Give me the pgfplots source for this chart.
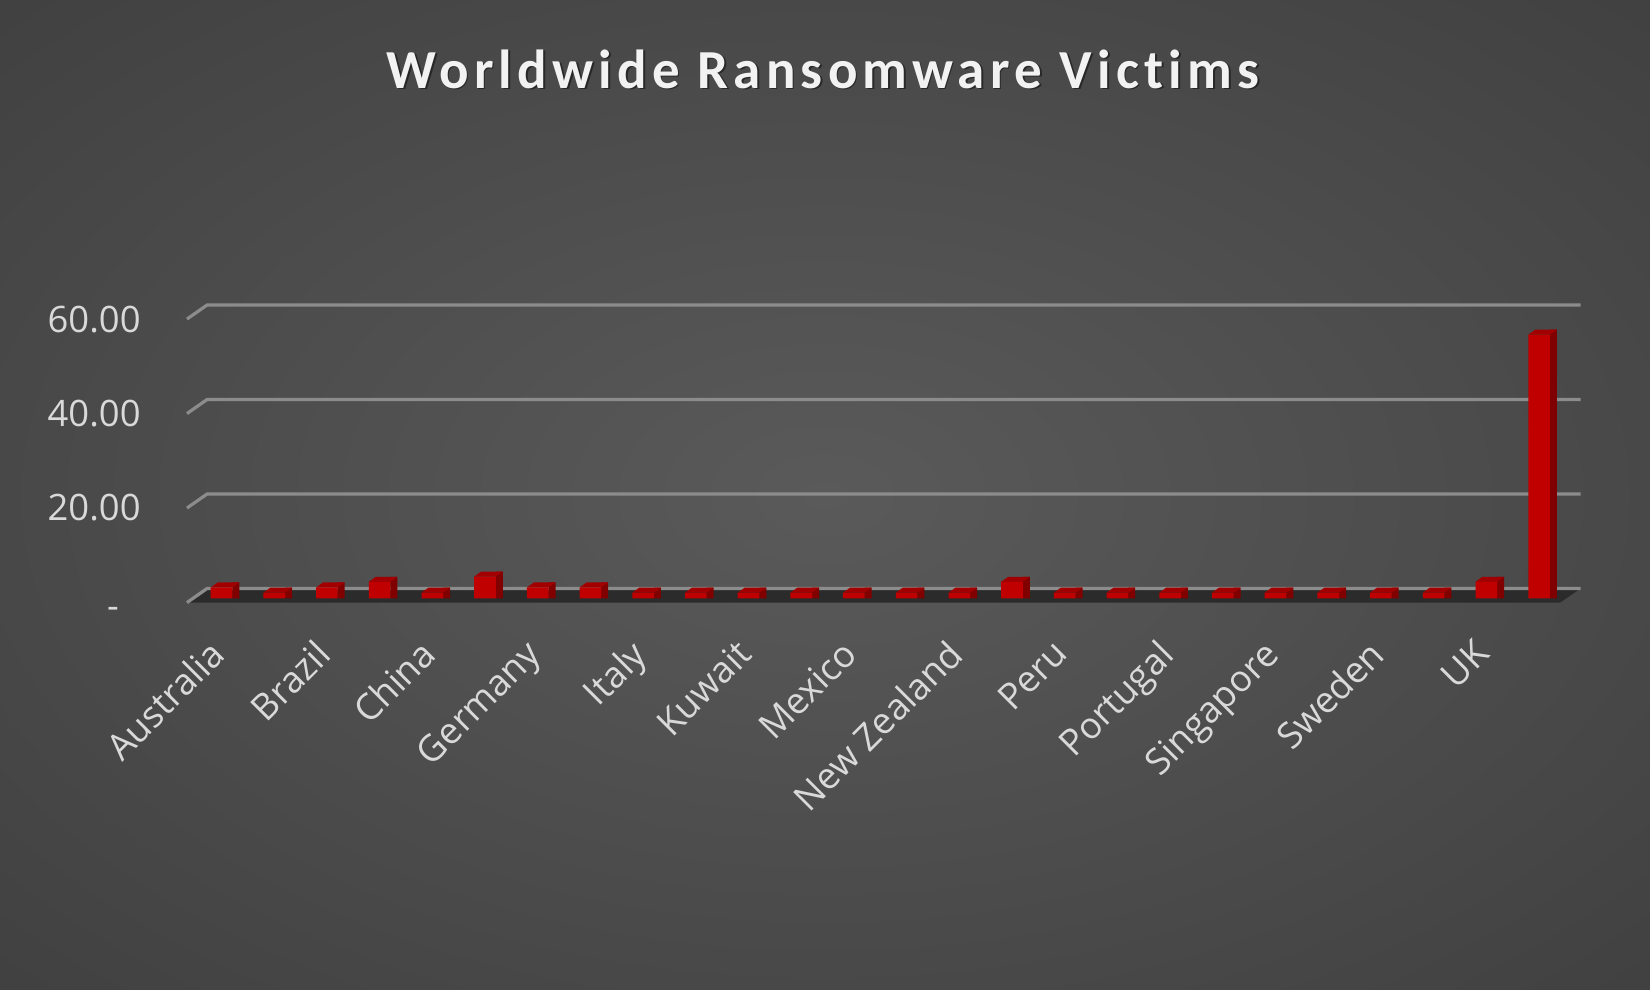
\documentclass[border=0pt]{standalone}
\usepackage{fontspec}
\setmainfont{Open Sans}
\newfontfamily\titlefont[LetterSpace=9.5,Ligatures=NoCommon]{Carlito}
\usepackage{pgfplots}
\usepackage{pgfplotstable}
\pgfplotsset{compat=1.18}
\definecolor{bgin}{HTML}{5A5A5A}
\definecolor{bgout}{HTML}{272727}
\definecolor{frontred}{HTML}{C00000}
\definecolor{topred}{HTML}{A20000}
\definecolor{sidered}{HTML}{800000}
\definecolor{gridgray}{HTML}{8C8C8C}
\definecolor{floorcol}{HTML}{2B2B2B}
\definecolor{labelgray}{HTML}{D9D9D9}
\definecolor{titlecol}{HTML}{F2F2F2}
\pgfdeclareradialshading{bgshade}{\pgfpoint{0bp}{0bp}}{color(0bp)=(bgin); color(71bp)=(bgout)}
\pgfdeclareplotmark{topface}{%
  \pgfpathmoveto{\pgfpoint{-5.4pt}{0pt}}%
  \pgfpathlineto{\pgfpoint{5.4pt}{0pt}}%
  \pgfpathlineto{\pgfpoint{8.9pt}{2.5pt}}%
  \pgfpathlineto{\pgfpoint{-1.9pt}{2.5pt}}%
  \pgfpathclose
  \pgfusepath{fill}}
\pgfplotstableread{
x v
0 2.3
1 1.2
2 2.3
3 3.5
4 1.2
5 4.6
6 2.3
7 2.3
8 1.2
9 1.2
10 1.2
11 1.2
12 1.2
13 1.2
14 1.2
15 3.5
16 1.2
17 1.2
18 1.2
19 1.2
20 1.2
21 1.2
22 1.2
23 1.2
24 3.5
25 55.8
}\victims
\begin{document}
\begin{tikzpicture}
\path[use as bounding box] (0,0) rectangle (825pt,495pt);
\shade[shading=bgshade] (0,0) rectangle (825pt,495pt);
\node[text=black, opacity=0.45] at (412.3pt,459.7pt) {\titlefont\bfseries\fontsize{27.5}{30}\selectfont Worldwide Ransomware Victims};
\node[text=titlecol] at (411.5pt,460.5pt) {\titlefont\bfseries\fontsize{27.5}{30}\selectfont Worldwide Ransomware Victims};
\begin{axis}[
  at={(93.5pt,193.72pt)}, anchor=south west,
  scale only axis, width=697.1pt, height=150.96pt,
  xmin=-0.655, xmax=25.8, ymin=-0.9, ymax=63,
  clip=false,
  axis line style={draw=none},
  major tick length=0pt,
  xtick={0,2,...,24},
  xticklabels={Australia,Brazil,China,Germany,Italy,Kuwait,Mexico,New Zealand,Peru,Portugal,Singapore,Sweden,UK},
  ytick={19.1,39.1,59.1},
  yticklabels={20.00,40.00,60.00},
  extra y ticks={-0.9},
  extra y tick labels={-},
  extra y tick style={yticklabel style={xshift=-10.9pt, yshift=-5.2pt}},
  ticklabel style={text=labelgray, font=\fontsize{18.2}{21}\selectfont},
  xticklabel style={xshift=-6.9pt, yshift=-17.3pt, rotate=45, anchor=north east, inner sep=0pt},
  yticklabel style={xshift=-23pt, anchor=east, inner sep=0pt},
]
% floor
\addplot[fill=floorcol, draw=none] coordinates {(-0.655,-0.9) (25.4,-0.9) (25.79,2.07) (-0.275,2.07)} -- cycle;
% gridlines (back wall)
\addplot[gridgray, line width=1.6pt] coordinates {(-0.655,-0.9) (-0.275,2.07) (25.79,2.07)};
\addplot[gridgray, line width=1.6pt] coordinates {(-0.655,19.1) (-0.275,22.07) (25.79,22.07)};
\addplot[gridgray, line width=1.6pt] coordinates {(-0.655,39.1) (-0.275,42.07) (25.79,42.07)};
\addplot[gridgray, line width=1.6pt] coordinates {(-0.655,59.1) (-0.275,62.07) (25.79,62.07)};
% side faces
\addplot[ybar, bar width=3.5pt, bar shift=7.15pt, fill=sidered, draw=none] table[x=x, y expr=\thisrow{v}+1.06] {\victims};
% front faces
\addplot[ybar, bar width=10.8pt, bar shift=0pt, fill=frontred, draw=none] table[x=x, y=v] {\victims};
% top faces
\addplot[only marks, mark=topface, color=topred] table[x=x, y=v] {\victims};
\end{axis}
\end{tikzpicture}
\end{document}
